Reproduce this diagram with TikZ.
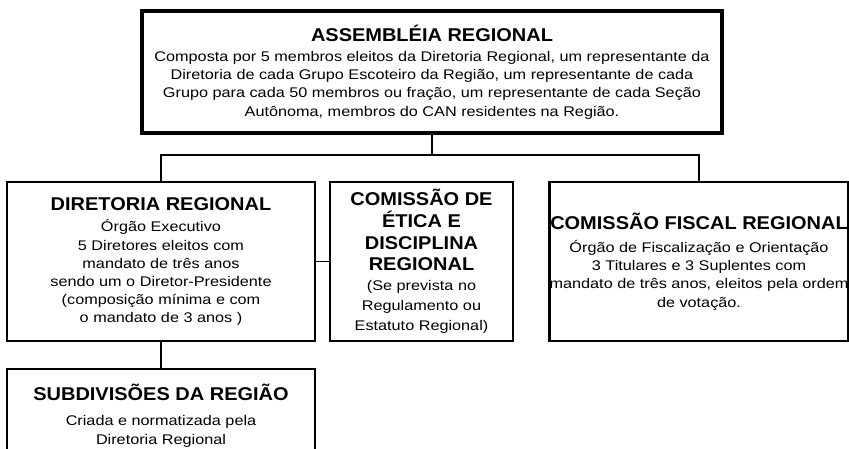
\documentclass[tikz,border=0pt]{standalone}
\usepackage{fontspec}
\setmainfont{Liberation Sans}
\newfontfamily\ttlfont[FakeStretch=1.08]{Liberation Sans}
\newfontfamily\bdyfont[FakeStretch=1.16]{Liberation Sans}
\newcommand\Ttl{\ttlfont\bfseries\fontsize{18.5}{21.7}\selectfont}
\newcommand\Bdy{\bdyfont\fontsize{14}{18.2}\selectfont}
\tikzset{
  orgbox/.style={draw=black, line width=2.4pt, fill=white, rectangle, inner sep=0pt,
    align=center, font=\Bdy, text=black},
  topbox/.style={orgbox, line width=3.4pt},
  link/.style={draw=black, line width=1.6pt}
}
\begin{document}
\begin{tikzpicture}[x=1pt,y=-1pt]
\useasboundingbox (0,0) rectangle (849,448);
\fill[white] (0,0) rectangle (849,448);

\node[topbox, minimum width=580pt, minimum height=122pt] (top) at (432,72)
  {{\Ttl ASSEMBLÉIA REGIONAL}\\[1.7pt]
   Composta por 5 membros eleitos da Diretoria Regional, um representante da\\
   Diretoria de cada Grupo Escoteiro da Região, um representante de cada\\
   Grupo para cada 50 membros ou fração, um representante de cada Seção\\
   Autônoma, membros do CAN residentes na Região.};

\node[orgbox, minimum width=308pt, minimum height=159pt] (dir) at (161,261.5)
  {{\Ttl DIRETORIA REGIONAL}\\[3.7pt]
   Órgão Executivo\\
   5 Diretores eleitos com\\
   mandato de três anos\\
   sendo um o Diretor-Presidente\\
   (composição mínima e com\\
   o mandato de 3 anos )};

\node[orgbox, minimum width=183pt, minimum height=159pt] (eti) at (421.5,261.5)
  {{\Ttl COMISSÃO DE}\\[3.5pt]
   {\Ttl ÉTICA E}\\[3.5pt]
   {\Ttl DISCIPLINA}\\[3.5pt]
   {\Ttl REGIONAL}\\[2pt]
   (Se prevista no\\[1.8pt]
   Regulamento ou\\[1.8pt]
   Estatuto Regional)};

\node[orgbox, minimum width=298pt, minimum height=159pt] (fis) at (699,261.5)
  {{\Ttl COMISSÃO FISCAL REGIONAL}\\[4.8pt]
   Órgão de Fiscalização e Orientação\\
   3 Titulares e 3 Suplentes com\\
   mandato de três anos, eleitos pela ordem\\
   de votação.};

\node[orgbox, minimum width=308pt, minimum height=94pt] (sub) at (161,416)
  {{\Ttl SUBDIVISÕES DA REGIÃO}\\[6.8pt]
   Criada e normatizada pela\\[0.8pt]
   Diretoria Regional};

\coordinate (bus) at (431,155);
\draw[link] (top.south) -- (top.south |- bus);
\draw[link] (dir.north) -- (dir.north |- bus) -| (fis.north);
\draw[link] (dir.east) -- (eti.west);
\draw[link] (dir.south) -- (sub.north);
\end{tikzpicture}
\end{document}
